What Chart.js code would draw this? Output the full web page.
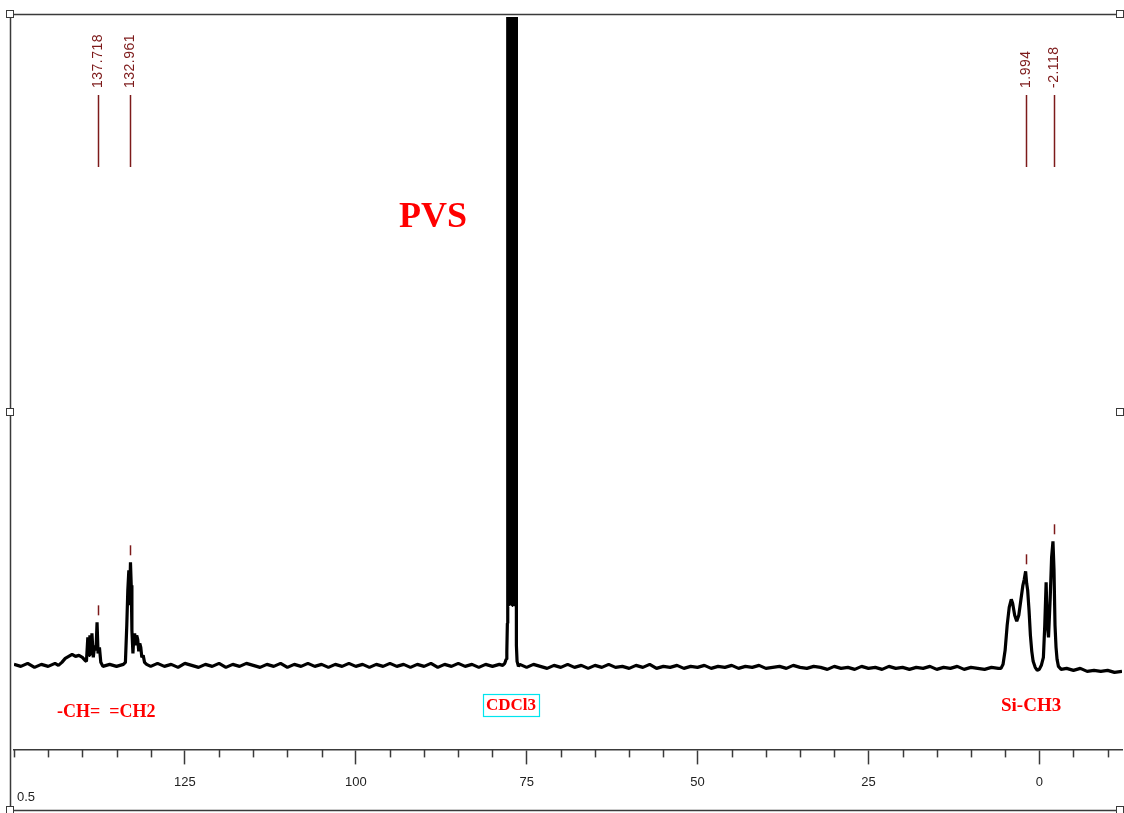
<!DOCTYPE html>
<html>
<head>
<meta charset="utf-8">
<script src="https://cdn.jsdelivr.net/npm/chart.js@4.4.1/dist/chart.umd.min.js"></script>
<style>
  html, body { margin: 0; padding: 0; background: #fff; }
  canvas { display: block; }
</style>
</head>
<body>
<canvas id="nmrChart" width="1124" height="813"></canvas>
<script>
// 13C NMR spectrum of PVS, chemical shift in ppm (axis runs right to left)
const ppm = [
  150, 149, 148, 147, 146, 145, 144, 143.5,
  143, 142.5, 142, 141.5, 141, 140.5, 140, 139.6, 139.4,
  139.2, 139.0, 138.9, 138.7, 138.6, 138.4, 138.2, 138.0, 137.85, 137.7, 137.5, 137.3, 137.0,
  136, 135, 134, 133.7, 133.5, 133.35, 133.2, 133.1, 132.96, 132.85, 132.75, 132.6, 132.5,
  132.35, 132.2, 132.05, 131.9, 131.75, 131.6, 131.45, 131.3, 131.1, 130.9, 130.6,
  130, 129, 128, 127, 126, 125, 124, 123, 122, 121, 120, 119, 118, 117, 116, 115, 114,
  113, 112, 111, 110, 109, 108, 107, 106, 105, 104, 103, 102, 101, 100, 99, 98, 97, 96,
  95, 94, 93, 92, 91, 90, 89, 88, 87, 86, 85, 84, 83, 82, 81, 80, 79, 78.5,
  78.2, 78.0, 77.9, 77.82, 77.78,
  77.75, 77.7, 77.65, 77.6, 77.55, 77.5, 77.45, 77.4, 77.35, 77.3, 77.25, 77.2, 77.15,
  77.1, 77.05, 77.0, 76.95, 76.9, 76.85, 76.8, 76.75, 76.7, 76.65, 76.6, 76.55,
  76.5, 76.4, 76.2, 76,
  75, 74, 73, 72, 71, 70, 69, 68, 67, 66, 65, 64, 63, 62, 61, 60, 59, 58, 57, 56, 55,
  54, 53, 52, 51, 50, 49, 48, 47, 46, 45, 44, 43, 42, 41, 40, 39, 38, 37, 36, 35, 34,
  33, 32, 31, 30, 29, 28, 27, 26, 25, 24, 23, 22, 21, 20, 19, 18, 17, 16, 15, 14, 13,
  12, 11, 10, 9, 8, 7, 6, 5.6,
  5.3, 5.0, 4.7, 4.4, 4.1, 3.9, 3.6, 3.3, 3.0, 2.7, 2.4, 2.2, 2.0, 1.85, 1.7, 1.5, 1.3,
  1.1, 0.9, 0.6, 0.3, 0.0, -0.3, -0.6, -0.8, -1.0, -1.15, -1.35, -1.6, -1.8, -2.0, -2.15,
  -2.3, -2.45, -2.6, -2.8, -3.2,
  -4, -5, -6, -7, -8, -9, -10, -11, -12.1
];

const intensity = [
  1, -1, 2, -2, 1, -1, 2, 0,
  3, 7, 9, 11, 9, 10, 8, 5, 4,
  28, 10, 30, 12, 32, 8, 20, 15, 43, 12, 18, 3, -1,
  1, -1, 1, 3, 40, 75, 95, 60, 103, 80, 35, 12, 25,
  32, 20, 30, 26, 14, 22, 18, 8, 10, 3, 1,
  -1, 2, -1, 1, -2, 2, 0, -2, 1, -1, 2, -2, 1, -1, 2, 0, -2,
  1, -1, 2, -2, 1, -1, 2, -1, 1, -2, 1, -1, 2, -1, 1, -2, 1, -1,
  2, -1, 1, -2, 1, -1, 2, -2, 1, -1, 2, -1, 1, -2, 1, -1, 1, 0,
  2, 6, 14, 42, 60,
  648, 60, 648, 75, 648, 60, 648, 75, 648, 60, 648, 75, 648,
  60, 648, 75, 648, 60, 648, 75, 648, 60, 648, 75, 648,
  20, 4, -1, 1,
  -2, 1, -1, -3, 0, -2, 1, -2, 0, -3, 0, -2, 1, -2, -1, -3, 0, -2, 1, -3, -1,
  -2, 0, -3, -1, -2, 0, -3, -1, -2, 0, -3, -1, -2, 0, -3, -2, -1, -3, 0, -2, -3,
  -1, -2, -4, -1, -3, -2, -4, -1, -3, -2, -4, -1, -3, -2, -4, -2, -3, -1, -4, -2, -3,
  -1, -4, -2, -3, -4, -2, -3, -3,
  1, 15, 40, 58, 66, 62, 50, 44, 50, 65, 80, 86, 94, 82, 75, 55, 30,
  14, 4, -2, -5, -4, 0, 8, 40, 83, 42, 28, 68, 108, 124, 96,
  40, 18, 6, -1, -4,
  -3, -5, -3, -6, -5, -6, -5, -7, -6
];

// picked peaks (ppm) printed above the spectrum
const peakLabels = [137.718, 132.961, 77.000, 1.994, -2.118];

// axis ticks
const majorTicks = [125, 100, 75, 50, 25, 0];
const minorTicks = [150, 145, 140, 135, 130, 120, 115, 110, 105, 95, 90, 85, 80, 70, 65, 60,
  55, 45, 40, 35, 30, 20, 15, 10, 5, -5, -10];

// assignment notes
const notes = [
  { text: "PVS", ppm: 88.7, y: 218, size: 36, box: false },
  { text: "-CH=  =CH2", ppm: 136.5, y: 712, size: 18, box: false },
  { text: "CDCl3", ppm: 77.3, y: 706, size: 17, box: true },
  { text: "Si-CH3", ppm: 1.2, y: 706, size: 19, box: false }
];

const LABEL_RED = "#7d1a1a";
const FRAME = "#3a3a3a";

function byId(id) {
  return document.getElementById(id);
}

function peakTop(p) {
  let best = -Infinity;
  ppm.forEach((v, i) => {
    if (Math.abs(v - p) <= 0.3 && intensity[i] > best) best = intensity[i];
  });
  return best;
}

const peakLabelPlugin = {
  id: "peakLabels",
  beforeDatasetsDraw(chart) {
    const ctx = chart.ctx;
    const xs = chart.scales.x;
    ctx.save();
    peakLabels.forEach((p) => {
      const x = Math.round(xs.getPixelForValue(p)) + 0.5;
      ctx.strokeStyle = LABEL_RED;
      ctx.lineWidth = 1.5;
      ctx.beginPath();
      ctx.moveTo(x, 95);
      ctx.lineTo(x, 167);
      ctx.stroke();
      ctx.save();
      ctx.translate(x, 88);
      ctx.rotate(-Math.PI / 2);
      ctx.fillStyle = LABEL_RED;
      ctx.font = "14px 'Liberation Sans', Arial, sans-serif";
      ctx.letterSpacing = "0.5px";
      ctx.textAlign = "left";
      ctx.textBaseline = "middle";
      ctx.fillText(p.toFixed(3), 0, 0);
      ctx.restore();
    });
    ctx.restore();
  },
  afterDatasetsDraw(chart) {
    const ctx = chart.ctx;
    const xs = chart.scales.x;
    const ys = chart.scales.y;
    ctx.save();
    ctx.strokeStyle = LABEL_RED;
    ctx.lineWidth = 1.5;
    peakLabels.forEach((p) => {
      const top = ys.getPixelForValue(peakTop(p));
      if (top - 17 < chart.chartArea.top) return;
      const x = Math.round(xs.getPixelForValue(p)) + 0.5;
      ctx.beginPath();
      ctx.moveTo(x, top - 17);
      ctx.lineTo(x, top - 7);
      ctx.stroke();
    });
    ctx.restore();
  }
};

const framePlugin = {
  id: "frame",
  afterDraw(chart) {
    const ctx = chart.ctx;
    const xs = chart.scales.x;
    const area = chart.chartArea;
    ctx.save();

    // minor ticks
    ctx.strokeStyle = FRAME;
    ctx.lineWidth = 1.5;
    minorTicks.forEach((v) => {
      const x = Math.round(xs.getPixelForValue(v)) + 0.5;
      ctx.beginPath();
      ctx.moveTo(x, area.bottom);
      ctx.lineTo(x, area.bottom + 8);
      ctx.stroke();
    });

    // outer frame with handles
    ctx.beginPath();
    ctx.moveTo(1120, 14.5);
    ctx.lineTo(10.5, 14.5);
    ctx.lineTo(10.5, 810.5);
    ctx.lineTo(1120, 810.5);
    ctx.stroke();
    ctx.fillStyle = "#fff";
    ctx.lineWidth = 1;
    [[10, 14], [1120, 14], [10, 412], [1120, 412], [10, 810], [1120, 810]].forEach(([hx, hy]) => {
      ctx.fillRect(hx - 3.5, hy - 3.5, 7, 7);
      ctx.strokeRect(hx - 3.5, hy - 3.5, 7, 7);
    });

    // left end value of the axis
    ctx.fillStyle = "#222";
    ctx.font = "13px 'Liberation Sans', Arial, sans-serif";
    ctx.textAlign = "left";
    ctx.textBaseline = "middle";
    ctx.fillText("0.5", 17, 797);

    // assignment notes
    notes.forEach((n) => {
      const x = xs.getPixelForValue(n.ppm);
      ctx.font = `bold ${n.size}px 'Liberation Serif', 'Times New Roman', serif`;
      ctx.textAlign = "center";
      ctx.textBaseline = "middle";
      ctx.fillStyle = "#ff0000";
      ctx.fillText(n.text, x, n.y);
      if (n.box) {
        const w = ctx.measureText(n.text).width;
        ctx.strokeStyle = "#00e5ee";
        ctx.lineWidth = 1.2;
        ctx.strokeRect(Math.round(x - w / 2 - 3) + 0.5, n.y - 11.5, Math.round(w + 6), 22);
      }
    });
    ctx.restore();
  }
};

new Chart(byId("nmrChart"), {
  type: "line",
  data: {
    datasets: [{
      data: ppm.map((p, i) => ({ x: p, y: intensity[i] })),
      borderColor: "#000",
      borderWidth: 3.2,
      borderJoinStyle: "bevel",
      pointRadius: 0,
      tension: 0,
      fill: false
    }]
  },
  options: {
    responsive: false,
    animation: false,
    devicePixelRatio: 1,
    layout: { padding: { left: 14, right: 2, top: 14, bottom: 13 } },
    plugins: { legend: { display: false }, tooltip: { enabled: false } },
    scales: {
      x: {
        type: "linear",
        reverse: true,
        min: -12.1,
        max: 150,
        afterBuildTicks: (scale) => {
          scale.ticks = majorTicks.map((v) => ({ value: v }));
        },
        grid: { drawOnChartArea: false, tickLength: 15, tickColor: FRAME, tickWidth: 1.5 },
        border: { color: FRAME, width: 1.5 },
        ticks: {
          padding: 10,
          color: "#222",
          maxRotation: 0,
          autoSkip: false,
          font: { family: "'Liberation Sans', Arial, sans-serif", size: 13 }
        }
      },
      y: { display: false, min: -84, max: 651 }
    }
  },
  plugins: [peakLabelPlugin, framePlugin]
});
</script>
</body>
</html>
